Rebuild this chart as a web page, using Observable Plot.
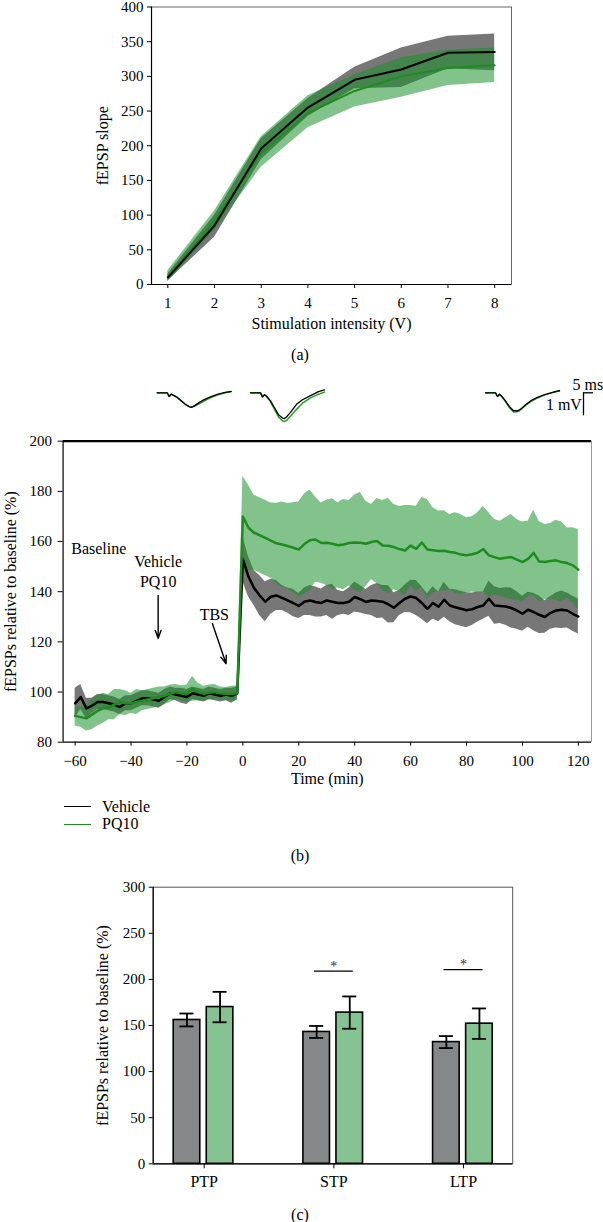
<!DOCTYPE html>
<html><head><meta charset="utf-8">
<script src="https://cdn.jsdelivr.net/npm/d3@7"></script>
<script src="https://cdn.jsdelivr.net/npm/@observablehq/plot@0.6"></script>
<style>
body{margin:0;background:#fff;}
#root{position:relative;width:603px;height:1222px;font-family:"Liberation Serif","Times New Roman",serif;color:#000;overflow:hidden}
#root svg{overflow:visible}
.abs{position:absolute}
.cap{position:absolute;font-size:16px;line-height:1;transform:translate(-50%,-50%);white-space:nowrap}
.leg{position:absolute;font-size:16px;line-height:1;transform:translateY(-50%);white-space:nowrap}
</style></head><body><div id="root"></div>
<script>
// ---------------- DATA ----------------
// Panel (a): input-output curve
const intensity = [1, 2, 3, 4, 5, 6, 7, 8];
const vehSlope   = [10, 85, 196, 255, 295, 310, 334, 335];
const vehSlopeLo = [5, 68, 180, 242, 282, 284, 311, 308];
const vehSlopeHi = [15, 100, 210, 268, 313, 341, 358, 361];
const pqSlope    = [11, 92, 190, 247, 279, 300, 312, 316];
const pqSlopeLo  = [4, 78, 169, 226, 256, 270, 287, 291];
const pqSlopeHi  = [20, 106, 213, 272, 302, 327, 338, 341];

// Panel (b): time course (every 2 min, -60 .. 120)
const timeMin = d3.range(-60, 121, 2);
const vehMean = [
  95.5, 98, 93.5, 94.5, 96, 96, 95.5, 95, 94, 95.5,
  95.5, 96.5, 97.5, 97.5, 97, 96.5, 98, 99.5, 99, 98.5,
  98, 99.5, 99, 98.5, 99.5, 99, 98.5, 99, 98.5, 99.5,
  153, 146, 141.5, 138.5, 136, 138, 138.5, 137.5, 136.5, 135.5,
  134.3, 136, 136.5, 135.9, 135.5, 136.5, 136, 135.5, 135.5, 136,
  137.9, 137, 135.9, 136.5, 136.3, 136, 135, 133.6, 135.5, 137.2,
  138.1, 137.5, 135.5, 133.2, 135.5, 134, 136.8, 134.5, 133.8, 133.2,
  132.6, 133, 133.9, 134.5, 137.2, 134.5, 134.3, 134.1, 133.5, 132.5,
  131.2, 132.8, 131.9, 130.8, 129.9, 131.5, 132.5, 132.8, 132.5, 131.2,
  130.1];
const vehSem = [
  6, 5, 4, 3, 3, 3, 3, 3, 3, 3,
  3, 3, 3, 3, 3, 3, 3, 2.5, 2.5, 3,
  3, 2.5, 2.5, 2.5, 2.5, 2.5, 2.5, 2.5, 3, 2.5,
  9, 8, 7, 8, 8, 7, 6, 5, 5, 5.5,
  5, 5.5, 6, 6, 5.6, 6, 7, 5, 4.5, 5.5,
  6, 5.5, 5, 6, 7, 6.5, 7.5, 6, 5, 5.5,
  6.5, 7, 6.5, 6, 6.5, 6, 7, 6.5, 7, 7,
  7, 6.5, 6, 5.5, 7, 7.5, 7, 7.5, 8, 7.5,
  7, 7, 7.5, 7.5, 6.5, 6.5, 7, 7.5, 7, 7,
  7];
const pqMean = [
  90.5, 90, 89.5, 91, 92.5, 93.5, 94, 95, 96, 95.5,
  95.5, 96, 96.5, 97, 97.5, 98, 98.5, 99.3, 100, 99.5,
  99.3, 101.3, 100, 99.3, 99.8, 100, 99.5, 99.3, 99.3, 99.5,
  170, 165.5, 163.5, 162.5, 161.5, 160.4, 159.3, 158.8, 158.2, 157.5,
  156.8, 159, 160.5, 160.8, 159.4, 159.5, 159.1, 158.5, 158.8, 159.4,
  159.6, 159.5, 159.1, 159.8, 160.2, 158.4, 158.3, 157.8, 157, 156.4,
  158.4, 157.1, 159.6, 156.8, 156.5, 156.2, 156.3, 155.8, 155.5, 154.8,
  154.5, 154.9, 155.5, 157, 154.5, 153.8, 153.1, 153.5, 153.8, 152.8,
  151.8, 153.1, 155.5, 152, 151.8, 152.2, 152.5, 151.8, 151.4, 150.5,
  148.8];
const pqSem = [
  4, 4, 5, 6, 6, 6, 5, 6, 5, 5,
  4, 5, 4, 4, 4, 4, 3.5, 3.5, 3, 3,
  3.5, 5, 3.5, 3, 3, 3, 2.5, 2.5, 3, 3,
  16, 17, 15, 15, 15, 15, 16, 17, 17, 18,
  19, 20, 20, 17, 16, 17, 18, 17, 18, 17,
  19, 20, 17, 15, 17, 18, 19, 17, 17, 18,
  16, 17, 18, 20, 17, 16, 16, 15, 16, 16,
  15, 15, 16, 17, 17, 15, 15, 16, 17, 16,
  16, 15, 17, 16, 15, 15, 16, 16, 14, 15,
  16];

// Example fEPSP traces (ms, mV)
const traceMs = [0, 5, 6, 7, 8, 10, 12, 14, 16, 17, 18, 20, 23, 26, 30, 34, 37];
const trace1Veh = [0, 0, -0.16, -0.06, -0.1, -0.2, -0.35, -0.5, -0.6, -0.63, -0.6, -0.48, -0.32, -0.2, -0.07, 0.02, 0.06];
const trace1Pq  = [0, 0, -0.16, -0.06, -0.1, -0.2, -0.35, -0.5, -0.6, -0.62, -0.6, -0.52, -0.38, -0.24, -0.1, 0.0, 0.05];
const trace2Veh = [0, 0, -0.18, -0.08, -0.15, -0.35, -0.65, -0.95, -1.1, -1.12, -1.05, -0.85, -0.5, -0.3, -0.12, 0.05, 0.13];
const trace2Pq  = [0, 0, -0.18, -0.08, -0.15, -0.38, -0.72, -1.05, -1.22, -1.25, -1.2, -1.02, -0.72, -0.45, -0.22, -0.06, 0.03];
const trace3Veh = [0, 0, -0.16, -0.06, -0.14, -0.35, -0.6, -0.78, -0.78, -0.74, -0.68, -0.52, -0.33, -0.2, -0.07, 0.03, 0.1];
const trace3Pq  = [0, 0, -0.16, -0.06, -0.15, -0.38, -0.65, -0.83, -0.82, -0.78, -0.7, -0.55, -0.36, -0.22, -0.08, 0.02, 0.08];

// Panel (c): bars
const phases = ["PTP", "STP", "LTP"];
const vehBar = [156, 143, 132];
const vehErr = [7, 6.5, 6.5];
const pqBar  = [170, 164, 152];
const pqErr  = [16.5, 17.5, 16.5];
const sigPhase = ["STP", "LTP"];
const sigLevel = [209, 210.5];

// ---------------- STYLE / LAYOUT ----------------
const FONT = "'Liberation Serif','Times New Roman',serif";
const GRAY_BAND = "#777777";
const GREEN_BAND = "#19912a";
const GREEN_ALPHA = 0.55;
const GREEN_LINE = "#1f8c1f";
const BAR_GRAY = "#858888";
const BAR_GREEN = "#86c392";
const baseStyle = {fontFamily: FONT, fontSize: "15px", color: "#000", background: "transparent", overflow: "visible"};
const root = document.getElementById("root");
function place(node, left, top) {
  node.style.position = "absolute"; node.style.left = left + "px"; node.style.top = top + "px";
  root.appendChild(node);
}
function addText(cls, txt, left, top) {
  const d = document.createElement("div"); d.className = cls; d.textContent = txt;
  d.style.left = left + "px"; d.style.top = top + "px"; root.appendChild(d);
}
function yLabel(txt, dx) {
  return Plot.text([txt], {text: d => d, frameAnchor: "left", textAnchor: "middle", lineAnchor: "middle", rotate: -90, dx, fontSize: 16});
}
function xLabel(txt, dy) {
  return Plot.text([txt], {text: d => d, frameAnchor: "bottom", textAnchor: "middle", lineAnchor: "middle", dy, fontSize: 16});
}

// ---------------- PANEL A ----------------
const rowsA = intensity.map((x, i) => ({x, vm: vehSlope[i], vl: vehSlopeLo[i], vh: vehSlopeHi[i],
  pm: pqSlope[i], pl: pqSlopeLo[i], ph: pqSlopeHi[i]}));
const xA = [0.65, 8.36];
const plotA = Plot.plot({
  width: 603, height: 341, marginTop: 7.5, marginBottom: 56, marginLeft: 151, marginRight: 92,
  style: baseStyle,
  x: {domain: xA}, y: {domain: [0, 400]},
  marks: [
    Plot.frame({stroke: "#666", strokeWidth: 1}),
    Plot.areaY(rowsA, {x: "x", y1: "vl", y2: "vh", fill: GRAY_BAND}),
    Plot.areaY(rowsA, {x: "x", y1: "pl", y2: "ph", fill: GREEN_BAND, fillOpacity: GREEN_ALPHA}),
    Plot.lineY(rowsA, {x: "x", y: "pm", stroke: GREEN_LINE, strokeWidth: 2}),
    Plot.lineY(rowsA, {x: "x", y: "vm", stroke: "#000", strokeWidth: 2}),
    Plot.ruleX([xA[0]], {stroke: "#000", strokeWidth: 1.2}),
    Plot.ruleY([0], {stroke: "#000", strokeWidth: 1.2}),
    Plot.axisX(intensity, {tickSize: 4, tickPadding: 9, label: null}),
    Plot.axisY(d3.range(0, 401, 50), {tickSize: 4, tickPadding: 4, label: null}),
    yLabel("fEPSP slope", -49),
    xLabel("Stimulation intensity (V)", 39)
  ]
});
place(plotA, 0, -1);
addText("cap", "(a)", 300, 355);

// ---------------- TRACES ----------------
const traceOffsetMs = [78.35, 125, 242.5];
const traceSets = [[trace1Veh, trace1Pq], [trace2Veh, trace2Pq], [trace3Veh, trace3Pq]];
const traceRows = [];
traceSets.forEach(([veh, pq], k) => {
  traceMs.forEach((t, i) => {
    traceRows.push({t: t + traceOffsetMs[k], v: veh[i], s: "Vehicle", z: "v" + k});
    traceRows.push({t: t + traceOffsetMs[k], v: pq[i], s: "PQ10", z: "p" + k});
  });
});
const scaleBar = {x: 291.5, lenMs: 5, lenMv: 1};
const scaleText = [
  {x: 286, y: 0.33, text: "5 ms"},
  {x: 290.7, y: -0.51, text: "1 mV"}
];
const plotT = Plot.plot({
  width: 603, height: 56, marginTop: 0, marginBottom: 0, marginLeft: 0, marginRight: 0,
  style: baseStyle,
  x: {domain: [0, 301.5], axis: null}, y: {domain: [-1.552, 0.883], axis: null},
  marks: [
    Plot.line(traceRows.filter(d => d.s === "PQ10"), {x: "t", y: "v", z: "z", stroke: "#2a9a2a", strokeWidth: 1.5}),
    Plot.line(traceRows.filter(d => d.s === "Vehicle"), {x: "t", y: "v", z: "z", stroke: "#000", strokeWidth: 1.3}),
    Plot.ruleX([scaleBar.x], {y1: 0, y2: -scaleBar.lenMv, stroke: "#000", strokeWidth: 1.3}),
    Plot.ruleY([0], {x1: scaleBar.x, x2: scaleBar.x + scaleBar.lenMs, stroke: "#000", strokeWidth: 1.3}),
    Plot.text(scaleText.slice(0, 1), {x: "x", y: "y", text: "text", textAnchor: "start", fontSize: 16}),
    Plot.text(scaleText.slice(1), {x: "x", y: "y", text: "text", textAnchor: "end", fontSize: 16})
  ]
});
place(plotT, 0, 372);

// ---------------- PANEL B ----------------
const rowsB = timeMin.map((t, i) => ({t, vm: vehMean[i], vl: vehMean[i] - vehSem[i], vh: vehMean[i] + vehSem[i],
  pm: pqMean[i], pl: pqMean[i] - pqSem[i], ph: pqMean[i] + pqSem[i]}));
const xB = [-64.3, 124.7];
const notesLeft = [{x: -61.4, y: 157, text: "Baseline"}];
const notesMid = [
  {x: -30.3, y: 151.8, text: "Vehicle"},
  {x: -30.3, y: 143.8, text: "PQ10"},
  {x: -10.2, y: 130.6, text: "TBS"}
];
const arrowsB = [
  {x1: -30.3, y1: 138.5, x2: -30.3, y2: 121.4},
  {x1: -10.9, y1: 127.3, x2: -6.0, y2: 111.3}
];
const plotB = Plot.plot({
  width: 603, height: 360, marginTop: 10.7, marginBottom: 48.3, marginLeft: 62.6, marginRight: 12,
  style: baseStyle,
  x: {domain: xB}, y: {domain: [80, 200]},
  marks: [
    Plot.ruleX([xB[1]], {stroke: "#999", strokeWidth: 1}),
    Plot.areaY(rowsB, {x: "t", y1: "vl", y2: "vh", fill: GRAY_BAND}),
    Plot.areaY(rowsB, {x: "t", y1: "pl", y2: "ph", fill: GREEN_BAND, fillOpacity: GREEN_ALPHA}),
    Plot.lineY(rowsB, {x: "t", y: "vm", stroke: "#000", strokeWidth: 2.5}),
    Plot.lineY(rowsB, {x: "t", y: "pm", stroke: GREEN_LINE, strokeWidth: 2.5}),
    Plot.ruleY([200], {stroke: "#000", strokeWidth: 2.2}),
    Plot.ruleX([xB[0]], {stroke: "#000", strokeWidth: 1.2}),
    Plot.ruleY([80], {stroke: "#000", strokeWidth: 1.2}),
    Plot.text(notesLeft, {x: "x", y: "y", text: "text", textAnchor: "start", fontSize: 16}),
    Plot.text(notesMid, {x: "x", y: "y", text: "text", textAnchor: "middle", fontSize: 16}),
    Plot.arrow(arrowsB, {x1: "x1", y1: "y1", x2: "x2", y2: "y2", stroke: "#000", strokeWidth: 1.4, headLength: 9, headAngle: 40}),
    Plot.axisX(d3.range(-60, 121, 20), {tickSize: 4, tickPadding: 9, label: null}),
    Plot.axisY(d3.range(80, 201, 20), {tickSize: 5, tickPadding: 6, label: null}),
    yLabel("fEPSPs relative to baseline (%)", -52),
    xLabel("Time (min)", 36.5)
  ]
});
place(plotB, 0, 430);

// legend
function legLine(color, top) {
  const d = document.createElement("div");
  d.className = "abs";
  Object.assign(d.style, {left: "64px", top: top + "px", width: "27px", height: "0", borderTop: "1.5px solid " + color});
  root.appendChild(d);
}
legLine("#000", 806);
legLine(GREEN_LINE, 823.5);
addText("leg", "Vehicle", 102, 806.5);
addText("leg", "PQ10", 102, 824);
addText("cap", "(b)", 300, 856);

// ---------------- PANEL C ----------------
const vehOff = [-0.235, -0.03], pqOff = [0.02, 0.225], capHalf = 0.054, sigHalf = 0.15;
const barRows = [];
phases.forEach((p, i) => {
  barRows.push({x1: i + vehOff[0], x2: i + vehOff[1], v: vehBar[i], e: vehErr[i], fill: BAR_GRAY});
  barRows.push({x1: i + pqOff[0], x2: i + pqOff[1], v: pqBar[i], e: pqErr[i], fill: BAR_GREEN});
});
barRows.forEach(d => { d.c = (d.x1 + d.x2) / 2; d.lo = d.v - d.e; d.hi = d.v + d.e; });
const capRows = barRows.flatMap(d => [{x1: d.c - capHalf, x2: d.c + capHalf, y: d.lo}, {x1: d.c - capHalf, x2: d.c + capHalf, y: d.hi}]);
const sigRows = sigPhase.map((p, k) => ({i: phases.indexOf(p), y: sigLevel[k]}));
const xC = [-0.393, 2.379];
const plotC = Plot.plot({
  width: 603, height: 319, marginTop: 10.7, marginBottom: 31.7, marginLeft: 152.7, marginRight: 90.8,
  style: baseStyle,
  x: {domain: xC}, y: {domain: [0, 300]},
  marks: [
    Plot.frame({stroke: "#555", strokeWidth: 1}),
    Plot.rectY(barRows, {x1: "x1", x2: "x2", y: "v", fill: "fill", stroke: "#000", strokeWidth: 1.6}),
    Plot.ruleX(barRows, {x: "c", y1: "lo", y2: "hi", stroke: "#000", strokeWidth: 1.8}),
    Plot.ruleY(capRows, {x1: "x1", x2: "x2", y: "y", stroke: "#000", strokeWidth: 1.8}),
    Plot.ruleY(sigRows, {x1: d => d.i - sigHalf, x2: d => d.i + sigHalf, y: "y", stroke: "#000", strokeWidth: 1.2}),
    Plot.text(sigRows, {x: "i", y: "y", text: () => "*", dy: -5, fontSize: 14, fill: "#333"}),
    Plot.ruleX([xC[0]], {stroke: "#000", strokeWidth: 1.2}),
    Plot.ruleY([0], {stroke: "#000", strokeWidth: 1.2}),
    Plot.axisX([0, 1, 2], {tickFormat: i => phases[i], tickSize: 5, tickPadding: 7, fontSize: 16, label: null}),
    Plot.axisY(d3.range(0, 301, 50), {tickSize: 4, tickPadding: 4, label: null}),
    yLabel("fEPSPs relative to baseline (%)", -50.3)
  ]
});
place(plotC, 0, 876);
addText("cap", "(c)", 300, 1214.5);
</script></body></html>
